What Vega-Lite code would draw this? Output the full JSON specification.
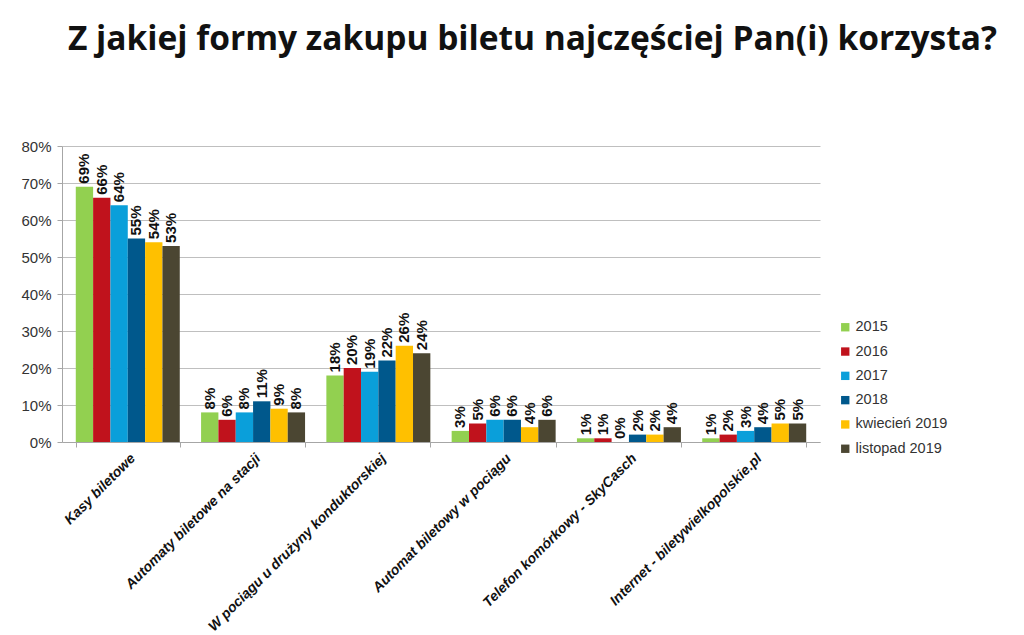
{
  "$schema": "https://vega.github.io/schema/vega-lite/v6.json",
  "autosize": {"type": "none"},
  "width": 758,
  "height": 296,
  "padding": {"left": 62, "top": 146, "right": 204, "bottom": 193},
  "background": "white",
  "title": {
    "text": "Z jakiej formy zakupu biletu najczęściej Pan(i) korzysta?",
    "anchor": "start",
    "frame": "group",
    "dx": 6,
    "offset": 82,
    "font": "Open Sans",
    "fontSize": 33.5,
    "fontWeight": "bold",
    "color": "#111111"
  },
  "data": {
    "values": [
      {"forma": "Kasy biletowe", "okres": "2015", "udzial": 0.69},
      {"forma": "Kasy biletowe", "okres": "2016", "udzial": 0.66},
      {"forma": "Kasy biletowe", "okres": "2017", "udzial": 0.64},
      {"forma": "Kasy biletowe", "okres": "2018", "udzial": 0.55},
      {"forma": "Kasy biletowe", "okres": "kwiecień 2019", "udzial": 0.54},
      {"forma": "Kasy biletowe", "okres": "listopad 2019", "udzial": 0.53},
      {"forma": "Automaty biletowe na stacji", "okres": "2015", "udzial": 0.08},
      {"forma": "Automaty biletowe na stacji", "okres": "2016", "udzial": 0.06},
      {"forma": "Automaty biletowe na stacji", "okres": "2017", "udzial": 0.08},
      {"forma": "Automaty biletowe na stacji", "okres": "2018", "udzial": 0.11},
      {"forma": "Automaty biletowe na stacji", "okres": "kwiecień 2019", "udzial": 0.09},
      {"forma": "Automaty biletowe na stacji", "okres": "listopad 2019", "udzial": 0.08},
      {"forma": "W pociągu u drużyny konduktorskiej", "okres": "2015", "udzial": 0.18},
      {"forma": "W pociągu u drużyny konduktorskiej", "okres": "2016", "udzial": 0.20},
      {"forma": "W pociągu u drużyny konduktorskiej", "okres": "2017", "udzial": 0.19},
      {"forma": "W pociągu u drużyny konduktorskiej", "okres": "2018", "udzial": 0.22},
      {"forma": "W pociągu u drużyny konduktorskiej", "okres": "kwiecień 2019", "udzial": 0.26},
      {"forma": "W pociągu u drużyny konduktorskiej", "okres": "listopad 2019", "udzial": 0.24},
      {"forma": "Automat biletowy w pociągu", "okres": "2015", "udzial": 0.03},
      {"forma": "Automat biletowy w pociągu", "okres": "2016", "udzial": 0.05},
      {"forma": "Automat biletowy w pociągu", "okres": "2017", "udzial": 0.06},
      {"forma": "Automat biletowy w pociągu", "okres": "2018", "udzial": 0.06},
      {"forma": "Automat biletowy w pociągu", "okres": "kwiecień 2019", "udzial": 0.04},
      {"forma": "Automat biletowy w pociągu", "okres": "listopad 2019", "udzial": 0.06},
      {"forma": "Telefon komórkowy - SkyCasch", "okres": "2015", "udzial": 0.01},
      {"forma": "Telefon komórkowy - SkyCasch", "okres": "2016", "udzial": 0.01},
      {"forma": "Telefon komórkowy - SkyCasch", "okres": "2017", "udzial": 0.0},
      {"forma": "Telefon komórkowy - SkyCasch", "okres": "2018", "udzial": 0.02},
      {"forma": "Telefon komórkowy - SkyCasch", "okres": "kwiecień 2019", "udzial": 0.02},
      {"forma": "Telefon komórkowy - SkyCasch", "okres": "listopad 2019", "udzial": 0.04},
      {"forma": "Internet - biletywielkopolskie.pl", "okres": "2015", "udzial": 0.01},
      {"forma": "Internet - biletywielkopolskie.pl", "okres": "2016", "udzial": 0.02},
      {"forma": "Internet - biletywielkopolskie.pl", "okres": "2017", "udzial": 0.03},
      {"forma": "Internet - biletywielkopolskie.pl", "okres": "2018", "udzial": 0.04},
      {"forma": "Internet - biletywielkopolskie.pl", "okres": "kwiecień 2019", "udzial": 0.05},
      {"forma": "Internet - biletywielkopolskie.pl", "okres": "listopad 2019", "udzial": 0.05}
    ]
  },
  "encoding": {
    "x": {
      "field": "forma",
      "type": "nominal",
      "sort": null,
      "title": null,
      "scale": {"paddingInner": 0.17, "paddingOuter": 0.11},
      "axis": {
        "labelAngle": -45,
        "labelFont": "Liberation Sans",
        "labelFontSize": 14,
        "labelFontWeight": "bold",
        "labelFontStyle": "italic",
        "labelColor": "#111111",
        "labelPadding": 4,
        "tickBand": "extent",
        "tickColor": "#A6A6A6",
        "tickSize": 5,
        "domainColor": "#A6A6A6",
        "labelLimit": 400
      }
    },
    "xOffset": {
      "field": "okres",
      "type": "nominal",
      "sort": null,
      "scale": {"paddingInner": 0, "paddingOuter": 0}
    },
    "y": {
      "field": "udzial",
      "type": "quantitative",
      "title": null,
      "scale": {"domain": [0, 0.8]},
      "axis": {
        "format": ".0%",
        "values": [0, 0.1, 0.2, 0.3, 0.4, 0.5, 0.6, 0.7, 0.8],
        "labelFont": "Liberation Sans",
        "labelFontSize": 15,
        "labelColor": "#333333",
        "labelPadding": 6,
        "tickColor": "#A6A6A6",
        "tickSize": 5,
        "domainColor": "#A6A6A6",
        "gridColor": "#BFBFBF",
        "gridWidth": 1.2
      }
    }
  },
  "layer": [
    {
      "mark": {"type": "bar"},
      "encoding": {
        "color": {
          "field": "okres",
          "type": "nominal",
          "sort": null,
          "title": null,
          "scale": {
            "domain": ["2015", "2016", "2017", "2018", "kwiecień 2019", "listopad 2019"],
            "range": ["#92D050", "#C0121C", "#0A9FDA", "#00588C", "#FFC000", "#4B4632"]
          },
          "legend": {
            "orient": "none",
            "legendX": 776,
            "legendY": 174,
            "symbolType": "square",
            "symbolSize": 70,
            "symbolStrokeWidth": 0,
            "labelFont": "Liberation Sans",
            "labelFontSize": 14.5,
            "labelColor": "#333333",
            "rowPadding": 9.3,
            "labelOffset": 3
          }
        }
      }
    },
    {
      "mark": {
        "type": "text",
        "angle": 270,
        "align": "left",
        "baseline": "middle",
        "dx": 3,
        "font": "Liberation Sans",
        "fontSize": 15,
        "fontWeight": "bold",
        "color": "#111111"
      },
      "encoding": {
        "text": {"field": "udzial", "type": "quantitative", "format": ".0%"}
      }
    }
  ],
  "config": {
    "view": {"stroke": null}
  }
}
